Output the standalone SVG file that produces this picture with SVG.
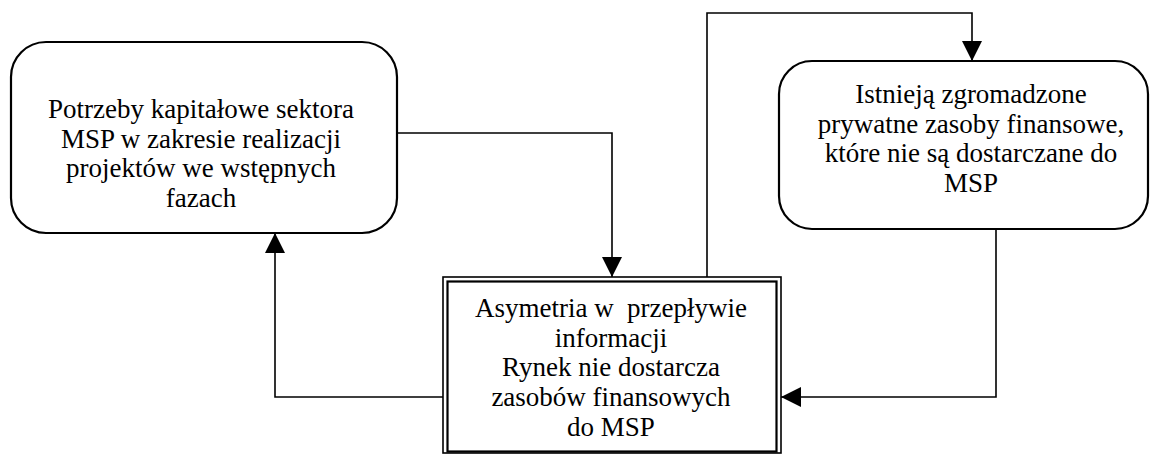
<svg xmlns="http://www.w3.org/2000/svg" width="1151" height="454" viewBox="0 0 1151 454">
<style>
.box{fill:#fff;stroke:#000;stroke-width:2.2}
.outer{fill:#fff;stroke:#000;stroke-width:1.6}
.inner{fill:none;stroke:#000;stroke-width:2.2}
.conn{fill:none;stroke:#000;stroke-width:1.6}
text{font-family:"Liberation Serif","Times New Roman",serif;font-size:27px;fill:#000;text-anchor:middle}
</style>
<defs>
<marker id="arr" markerUnits="userSpaceOnUse" markerWidth="20" markerHeight="20" viewBox="0 0 20 20" refX="20" refY="10" orient="auto">
<path d="M0,0 L20,10 L0,20 Z" fill="#000"/>
</marker>
</defs>
<g id="connectors">
<polyline class="conn" points="397,133 612,133 612,277" marker-end="url(#arr)"/>
<polyline class="conn" points="707,277 707,13 972,13 972,61" marker-end="url(#arr)"/>
<polyline class="conn" points="996,229 996,397 781,397" marker-end="url(#arr)"/>
<polyline class="conn" points="443,397 275,397 275,233" marker-end="url(#arr)"/>
</g>
<g id="node-potrzeby">
<rect class="box" x="11" y="42" width="386" height="191" rx="35" ry="35"/>
<text x="201" y="118">Potrzeby kapitałowe sektora</text>
<text x="201" y="147.7">MSP w zakresie realizacji</text>
<text x="201" y="177.4">projektów we wstępnych</text>
<text x="201" y="207.1">fazach</text>
</g>
<g id="node-istnieja">
<rect class="box" x="779" y="61" width="369" height="168" rx="33" ry="33"/>
<text x="971" y="103">Istnieją zgromadzone</text>
<text x="971" y="132.7">prywatne zasoby finansowe,</text>
<text x="971" y="162.4">które nie są dostarczane do</text>
<text x="971" y="192.1">MSP</text>
</g>
<g id="node-asymetria">
<rect class="outer" x="443" y="277" width="338" height="176"/>
<rect class="inner" x="447.5" y="281.5" width="329" height="170"/>
<text x="611" y="317" xml:space="preserve">Asymetria w  przepływie</text>
<text x="611" y="346.7">informacji</text>
<text x="611" y="376.4">Rynek nie dostarcza</text>
<text x="611" y="406.1">zasobów finansowych</text>
<text x="611" y="435.8">do MSP</text>
</g>
</svg>
